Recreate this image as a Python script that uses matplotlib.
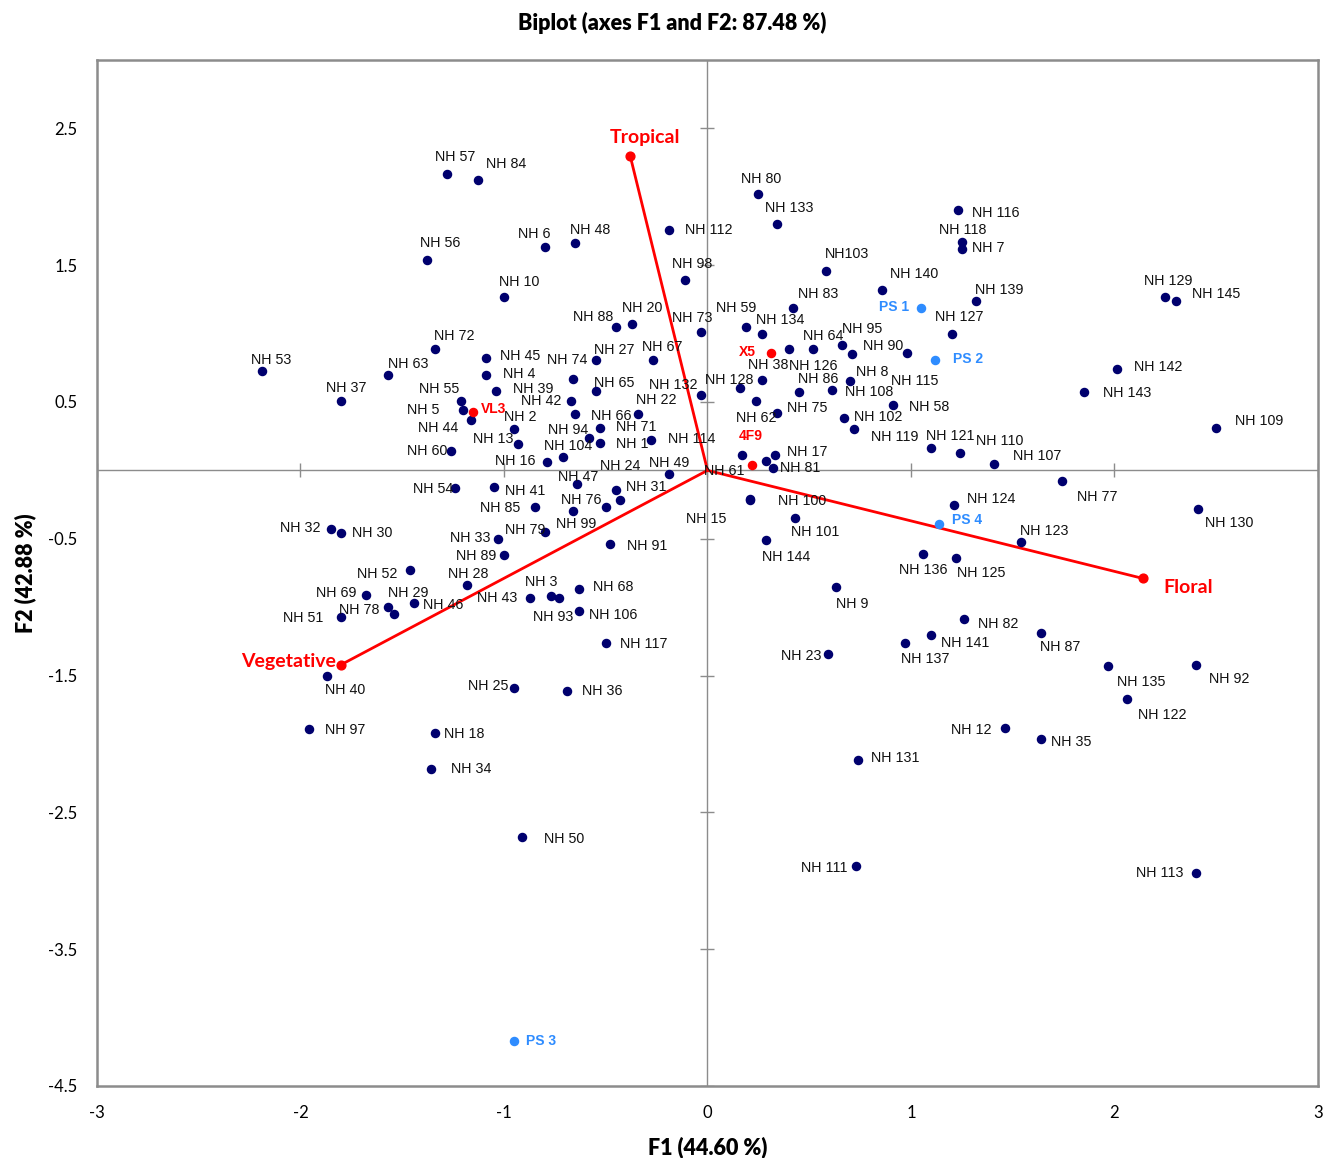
import matplotlib.pyplot as plt

# observation scores (F1, F2) for the NH accessions
nh_names = [
    "NH 57", "NH 84", "NH 56", "NH 6", "NH 48", "NH 10", "NH 112", "NH 98", "NH 88", "NH 20",
    "NH 73", "NH 72", "NH 53", "NH 63", "NH 37", "NH 45", "NH 4", "NH 39", "NH 55", "NH 5",
    "NH 44", "NH 2", "NH 13", "NH 60", "NH 16", "NH 104", "NH 42", "NH 74", "NH 27", "NH 65",
    "NH 94", "NH 66", "NH 1", "NH 71", "NH 22", "NH 67", "NH 132", "NH 49", "NH 47", "NH 24",
    "NH 31", "NH 76", "NH 54", "NH 41", "NH 99", "NH 85", "NH 79", "NH 33", "NH 89", "NH 52",
    "NH 28", "NH 46", "NH 43", "NH 3", "NH 93", "NH 68", "NH 106", "NH 91", "NH 117", "NH 25",
    "NH 36", "NH 32", "NH 30", "NH 69", "NH 78", "NH 29", "NH 51", "NH 40", "NH 97", "NH 18",
    "NH 34", "NH 50", "NH 80", "NH 133", "NH 116", "NH 118", "NH 7", "NH103", "NH 140", "NH 139",
    "NH 129", "NH 145", "NH 83", "NH 59", "NH 134", "NH 127", "NH 64", "NH 95", "NH 90", "NH 115",
    "NH 126", "NH 38", "NH 128", "NH 86", "NH 108", "NH 8", "NH 62", "NH 75", "NH 58", "NH 102",
    "NH 119", "NH 121", "NH 110", "NH 107", "NH 17", "NH 81", "NH 114", "NH 61", "NH 142", "NH 143",
    "NH 109", "NH 77", "NH 130", "NH 123", "NH 15", "NH 100", "NH 101", "NH 144", "NH 124", "NH 136",
    "NH 125", "NH 9", "NH 82", "NH 141", "NH 137", "NH 23", "NH 87", "NH 135", "NH 92", "NH 122",
    "NH 12", "NH 35", "NH 131", "NH 111", "NH 113", "",
]
nh_f1 = [
    -1.28, -1.13, -1.38, -0.80, -0.65, -1.00, -0.19, -0.11, -0.45, -0.37,
    -0.03, -1.34, -2.19, -1.57, -1.80, -1.09, -1.09, -1.04, -1.21, -1.20,
    -1.16, -0.95, -0.93, -1.26, -0.79, -0.71, -0.67, -0.66, -0.55, -0.55,
    -0.58, -0.53, -0.53, -0.28, -0.34, -0.27, -0.03, -0.19, -0.64, -0.45,
    -0.43, -0.50, -1.24, -1.05, -0.66, -0.85, -0.80, -1.03, -1.00, -1.46,
    -1.18, -1.44, -0.87, -0.77, -0.73, -0.63, -0.63, -0.48, -0.50, -0.95,
    -0.69, -1.85, -1.80, -1.68, -1.57, -1.54, -1.80, -1.87, -1.96, -1.34,
    -1.36, -0.91, 0.25, 0.34, 1.23, 1.25, 1.25, 0.58, 0.86, 1.32,
    2.25, 2.30, 0.42, 0.19, 0.27, 1.20, 0.52, 0.66, 0.71, 0.98,
    0.40, 0.27, 0.16, 0.45, 0.61, 0.70, 0.24, 0.34, 0.91, 0.67,
    0.72, 1.10, 1.24, 1.41, 0.33, 0.32, 0.17, 0.29, 2.01, 1.85,
    2.50, 1.74, 2.41, 1.54, 0.21, 0.21, 0.43, 0.29, 1.21, 1.06,
    1.22, 0.63, 1.26, 1.10, 0.97, 0.59, 1.64, 1.97, 2.40, 2.06,
    1.46, 1.64, 0.74, 0.73, 2.40, -0.65,
]
nh_f2 = [
    2.17, 2.12, 1.54, 1.63, 1.66, 1.27, 1.76, 1.39, 1.05, 1.07,
    1.01, 0.89, 0.73, 0.70, 0.51, 0.82, 0.70, 0.58, 0.51, 0.44,
    0.37, 0.30, 0.19, 0.14, 0.06, 0.10, 0.51, 0.67, 0.81, 0.58,
    0.24, 0.31, 0.20, 0.22, 0.41, 0.81, 0.55, -0.03, -0.10, -0.14,
    -0.22, -0.27, -0.13, -0.12, -0.30, -0.27, -0.45, -0.50, -0.62, -0.73,
    -0.84, -0.97, -0.93, -0.92, -0.93, -0.87, -1.03, -0.54, -1.26, -1.59,
    -1.61, -0.43, -0.46, -0.91, -1.00, -1.05, -1.07, -1.50, -1.89, -1.92,
    -2.18, -2.68, 2.02, 1.80, 1.90, 1.67, 1.62, 1.46, 1.32, 1.24,
    1.27, 1.24, 1.19, 1.05, 1.00, 1.00, 0.89, 0.92, 0.85, 0.86,
    0.89, 0.66, 0.60, 0.57, 0.59, 0.65, 0.51, 0.42, 0.48, 0.38,
    0.30, 0.16, 0.13, 0.05, 0.11, 0.02, 0.11, 0.07, 0.74, 0.57,
    0.31, -0.08, -0.28, -0.52, -0.21, -0.22, -0.35, -0.51, -0.25, -0.61,
    -0.64, -0.85, -1.09, -1.20, -1.26, -1.34, -1.19, -1.43, -1.42, -1.67,
    -1.88, -1.96, -2.12, -2.89, -2.94, 0.41,
]

# reference samples and marker samples
ps_names = ["PS 1", "PS 2", "PS 3", "PS 4"]
ps_f1 = [1.05, 1.12, -0.95, 1.14]
ps_f2 = [1.19, 0.81, -4.17, -0.39]

mk_names = ["X5", "VL3", "4F9"]
mk_f1 = [0.31, -1.15, 0.22]
mk_f2 = [0.86, 0.43, 0.04]

# variable loadings
var_names = ["Tropical", "Vegetative", "Floral"]
var_f1 = [-0.38, -1.80, 2.14]
var_f2 = [2.30, -1.42, -0.79]

x_ticks = [-3, -2, -1, 0, 1, 2, 3]
y_ticks = [2.5, 1.5, 0.5, -0.5, -1.5, -2.5, -3.5, -4.5]

# label offsets in pixels (right, up) from each point
nh_offsets = [
    (8, 17), (29, 16), (14, 17), (-10, 13), (15, 13), (15, 15), (40, 0), (7, 16), (-23, 10), (10, 16),
    (-9, 14), (19, 13), (9, 11), (20, 11), (5, 13), (34, 2), (34, 1), (37, 2), (-22, 12), (-40, 0),
    (-33, -8), (6, 12), (-25, 5), (-24, 0), (-31, 1), (5, 11), (-30, 0), (-6, 19), (19, 10), (19, 8),
    (-21, 8), (12, 12), (33, -1), (-14, 13), (18, 14), (10, 13), (-28, 10), (0, 11), (1, 7), (4, 24),
    (26, 13), (-24, 7), (-22, -1), (31, -4), (3, -13), (-34, -1), (-19, 2), (-28, 1), (-28, -1), (-33, -4),
    (1, 11), (29, -2), (-33, 0), (-10, 14), (-6, -19), (34, 2), (34, -4), (37, -2), (38, -1), (-26, 2),
    (35, 0), (-31, 1), (31, 0), (-29, 2), (-29, -3), (14, 21), (-38, -1), (18, -14), (37, -1), (29, -1),
    (40, 0), (42, -2), (3, 15), (13, 16), (38, -3), (1, 12), (26, 1), (22, 17), (32, 16), (23, 11),
    (3, 16), (41, 7), (25, 14), (-10, 19), (18, 14), (8, 17), (10, 13), (20, 16), (31, 8), (8, -28),
    (24, -17), (6, 15), (-11, 8), (19, 13), (38, -2), (22, 9), (0, -17), (31, 5), (36, -2), (34, 1),
    (41, -8), (19, 12), (40, 12), (43, 8), (33, 3), (28, 0), (-50, 16), (-42, -10), (42, 2), (43, -1),
    (43, 7), (36, -16), (31, -14), (23, 11), (-44, -20), (52, -1), (20, -14), (20, -17), (37, 6), (0, -16),
    (25, -15), (17, -17), (34, -5), (34, -8), (20, -16), (-26, -2), (19, -14), (33, -16), (33, -14), (36, -16),
    (-33, -2), (30, -3), (37, 2), (-32, -2), (-36, 0), (0, 0),
]
ps_offsets = [(-27, 1), (33, 1), (27, 0), (28, 4)]
mk_offsets = [(-23, 1), (20, 3), (-2, 29)]
var_offsets = [(15, 18), (-53, 3), (45, -9)]

navy = "#00006e"
red = "#ff0000"
light_blue = "#2e8cff"
grey = "#8c8c8c"

fig = plt.figure(figsize=(13.25, 11.58), dpi=100)
ax = fig.add_axes([0.0732, 0.0622, 0.9215, 0.886])
ax.set_xlim(-3, 3)
ax.set_ylim(-4.5, 3)

# zero lines with their own small tick marks
ax.axhline(0, color=grey, lw=1, zorder=1)
ax.axvline(0, color=grey, lw=1, zorder=1)
ax.scatter(x_ticks, [0] * len(x_ticks), marker="|", s=110, color=grey, lw=1, zorder=1)
ax.scatter([0] * len(y_ticks), y_ticks, marker="_", s=110, color=grey, lw=1, zorder=1)

# variable vectors
for name, vx, vy, off in zip(var_names, var_f1, var_f2, var_offsets):
    ax.plot([0, vx], [0, vy], color=red, lw=2, zorder=2)
    ax.scatter([vx], [vy], s=40, color=red, zorder=4)
    ax.annotate(name, (vx, vy), xytext=off, textcoords="offset pixels",
                ha="center", va="center", color=red, fontsize=14,
                fontweight="bold", family="Lato")

ax.scatter(nh_f1, nh_f2, s=34, color=navy, zorder=3)
ax.scatter(ps_f1, ps_f2, s=34, color=light_blue, zorder=3)
ax.scatter(mk_f1, mk_f2, s=34, color=red, zorder=3)

for name, x, y, off in zip(nh_names, nh_f1, nh_f2, nh_offsets):
    if name:
        ax.annotate(name, (x, y), xytext=off, textcoords="offset pixels",
                    ha="center", va="center", fontsize=10.3, color="#111111",
                    family="Liberation Sans")
for name, x, y, off in zip(ps_names, ps_f1, ps_f2, ps_offsets):
    ax.annotate(name, (x, y), xytext=off, textcoords="offset pixels",
                ha="center", va="center", fontsize=10, color=light_blue,
                fontweight="bold", family="Liberation Sans")
for name, x, y, off in zip(mk_names, mk_f1, mk_f2, mk_offsets):
    ax.annotate(name, (x, y), xytext=off, textcoords="offset pixels",
                ha="center", va="center", fontsize=10, color=red,
                fontweight="bold", family="Liberation Sans")

ax.set_xticks(x_ticks)
ax.set_yticks(y_ticks)
ax.set_xticklabels([str(t) for t in x_ticks], family="Lato", fontsize=12)
ax.set_yticklabels([str(t) for t in y_ticks], family="Lato", fontsize=12)
ax.tick_params(length=0, pad=14)
for s in ax.spines.values():
    s.set_color(grey)
    s.set_linewidth(1.8)

ax.set_xlabel("F1 (44.60 %)", family="Lato", fontweight="heavy", fontsize=15.5, labelpad=11)
ax.set_ylabel("F2 (42.88 %)", family="Lato", fontweight="heavy", fontsize=15.5, labelpad=9)
fig.suptitle("Biplot (axes F1 and F2: 87.48 %)", x=0.507, y=0.99, va="top",
             family="Lato", fontweight="heavy", fontsize=15.5)

fig.savefig("out.png", dpi=100)
